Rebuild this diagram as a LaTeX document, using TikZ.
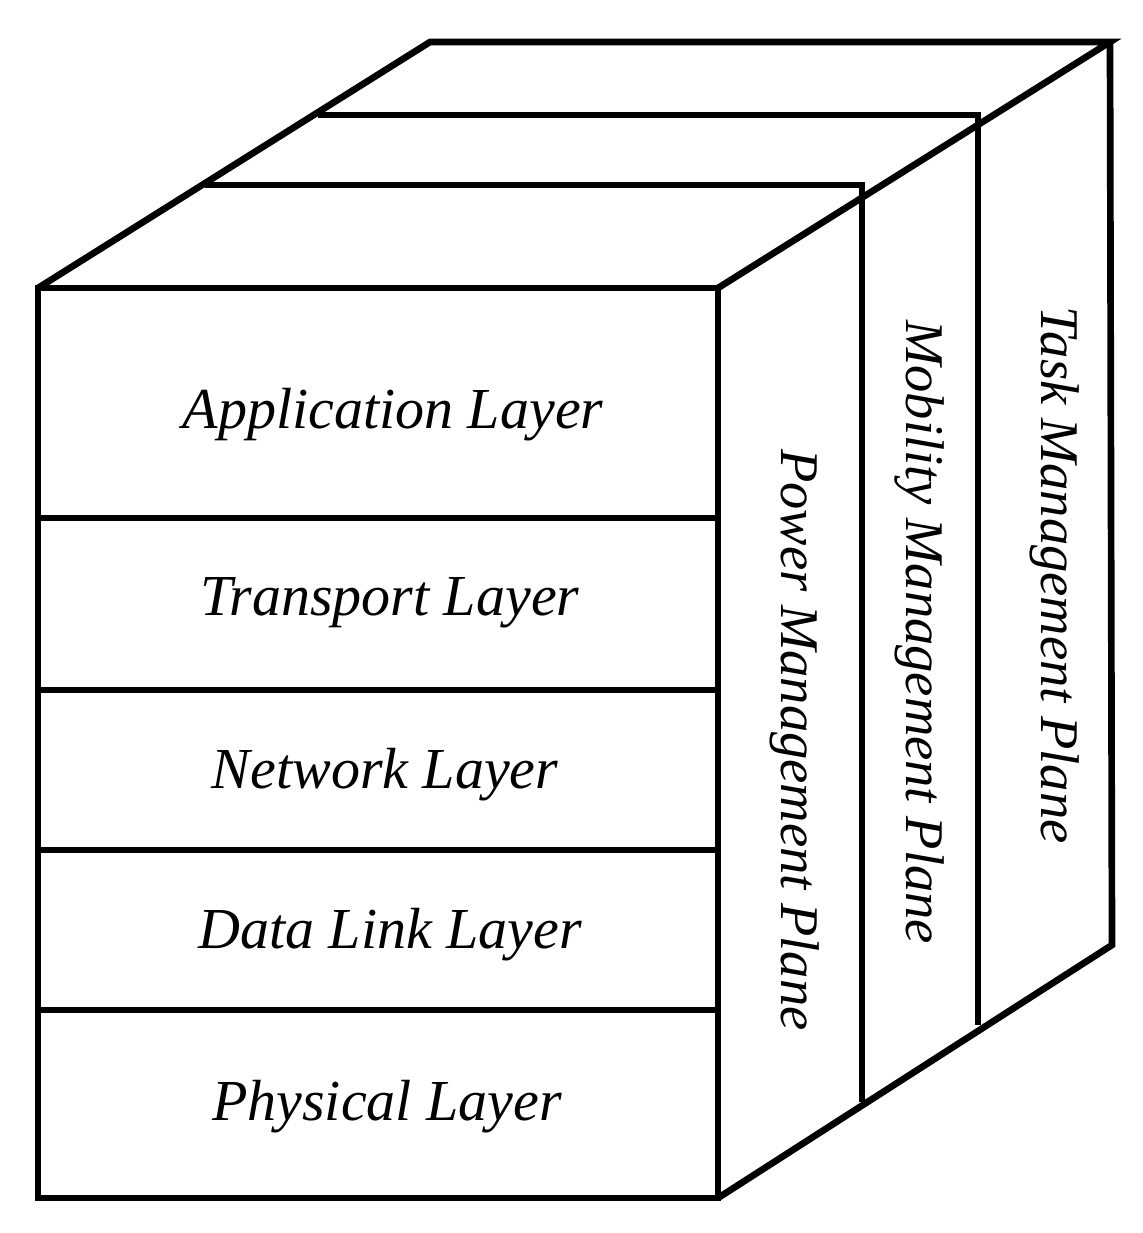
\documentclass[tikz,border=0pt]{standalone}
\usepackage{fontspec}
\setmainfont{Liberation Serif}
\begin{document}
\begin{tikzpicture}[x=0.01cm,y=-0.01cm,line width=1.9pt,line join=miter,
  lbl/.style={font=\fontsize{16.5}{19}\selectfont\itshape},
  vlbl/.style={font=\fontsize{15.5}{18}\selectfont\itshape,rotate=-90}]
\useasboundingbox (0,0) rectangle (1142,1233);
\coordinate (FTL) at (38,288); \coordinate (FTR) at (718,288);
\coordinate (FBL) at (38,1198); \coordinate (FBR) at (718,1198);
\coordinate (BTL) at (430,42); \coordinate (BTR) at (1110,42);
\coordinate (BBR) at (1112,945);
\draw (FTL) rectangle (FBR);
\draw (FTL) -- (BTL) -- (BTR) -- (FTR);
\draw (BTR) -- (BBR) -- (FBR);
\foreach \y in {518,690,850,1010} \draw (38,\y) -- (718,\y);
\coordinate (P1a) at (205,185); \coordinate (P1b) at (862,185); \coordinate (P1c) at (862,1102);
\coordinate (P2a) at (318,115); \coordinate (P2b) at (978,115); \coordinate (P2c) at (978,1025);
\draw (P1a) -- (P1b) -- (P1c);
\draw (P2a) -- (P2b) -- (P2c);
\node[lbl] (app) at (393,415) {Application Layer};
\node[lbl] (tr) at (390,603) {Transport Layer};
\node[lbl] (net) at (385,775) {Network Layer};
\node[lbl] (dl) at (390,935) {Data Link Layer};
\node[lbl] (ph) at (387,1107) {Physical Layer};
\node[vlbl] (pw) at (795,740) {Power Management Plane};
\node[vlbl] (mb) at (920,632) {Mobility Management Plane};
\node[vlbl] (tk) at (1055,575) {Task Management Plane};
\end{tikzpicture}
\end{document}
